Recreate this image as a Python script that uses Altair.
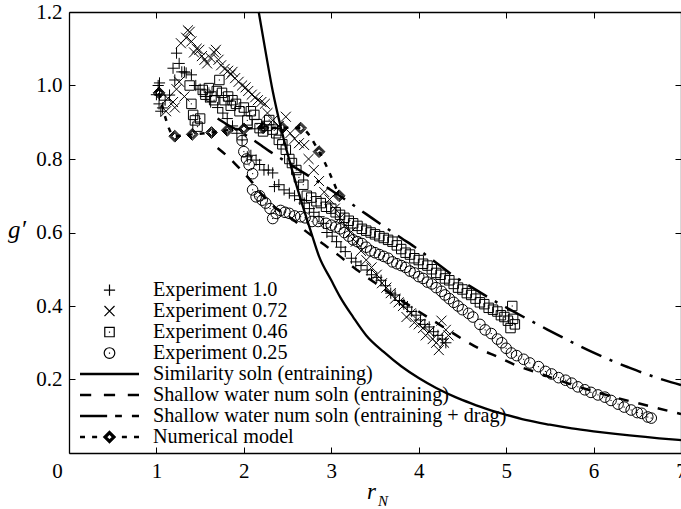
import altair as alt
import pandas as pd

FONT = "Liberation Serif"

# ---------------- data ----------------
X_TICKS = [0, 1, 2, 3, 4, 5, 6, 7]
Y_TICKS = [0.2, 0.4, 0.6, 0.8, 1.0, 1.2]
X_MIRROR = [1, 2, 3, 4, 5, 6]
Y_MIRROR = [0.2, 0.4, 0.6, 0.8, 1.0]

exp_10 = [(1.00, 0.975), (1.02, 1.00), (1.03, 0.95), (1.035, 1.007), (1.035, 0.974), (1.05, 0.93),
          (1.07, 0.939), (1.10, 0.96), (1.15, 0.974), (1.19, 1.047), (1.21, 1.015), (1.23, 1.088),
          (1.26, 1.06), (1.29, 1.037), (1.32, 1.037), (1.34, 1.034), (1.40, 1.029), (1.45, 1.00),
          (1.50, 0.99), (1.56, 0.97), (1.62, 0.955), (1.70, 0.94), (1.76, 0.925), (1.81, 0.91),
          (1.87, 0.89), (1.92, 0.87), (1.98, 0.852), (2.04, 0.806), (2.08, 0.81), (2.14, 0.797),
          (2.18, 0.785), (2.23, 0.77), (2.28, 0.77), (2.33, 0.762), (2.35, 0.725), (2.40, 0.73),
          (2.46, 0.716), (2.52, 0.707), (2.58, 0.70), (2.64, 0.69), (2.69, 0.68), (2.75, 0.665),
          (2.80, 0.655), (2.86, 0.643), (2.91, 0.625), (2.95, 0.60), (3.01, 0.59), (3.06, 0.575),
          (3.11, 0.56), (3.16, 0.548), (3.23, 0.53), (3.28, 0.52), (3.34, 0.51), (3.41, 0.498),
          (3.46, 0.485), (3.52, 0.478), (3.57, 0.47), (3.62, 0.455), (3.68, 0.435), (3.73, 0.43),
          (3.78, 0.415), (3.83, 0.405), (3.87, 0.397), (3.92, 0.385), (3.97, 0.375), (4.02, 0.362),
          (4.07, 0.35), (4.12, 0.343), (4.17, 0.33), (4.22, 0.32), (4.27, 0.31), (4.31, 0.30)]

exp_072 = [(1.11, 0.93), (1.13, 0.965), (1.19, 0.955), (1.21, 0.94), (1.23, 0.99), (1.26, 1.01),
           (1.28, 1.115), (1.32, 0.97), (1.34, 1.13), (1.36, 1.15), (1.38, 1.146), (1.40, 1.12),
           (1.43, 1.09), (1.46, 1.10), (1.49, 1.097), (1.52, 1.08), (1.55, 1.07), (1.58, 1.06),
           (1.62, 1.075), (1.66, 1.09), (1.68, 1.097), (1.71, 1.07), (1.74, 1.055), (1.78, 1.045),
           (1.82, 1.04), (1.85, 1.03), (1.87, 1.037), (1.90, 1.02), (1.94, 1.01), (1.98, 1.00),
           (2.02, 0.995), (2.05, 0.985), (2.09, 0.975), (2.13, 0.968), (2.16, 0.96), (2.20, 0.955),
           (2.24, 0.95), (2.27, 0.925), (2.33, 0.905), (2.40, 0.89), (2.48, 0.915), (2.53, 0.87),
           (2.58, 0.855), (2.63, 0.843), (2.69, 0.838), (2.74, 0.80), (2.80, 0.77), (2.86, 0.74),
           (2.92, 0.71), (2.98, 0.69), (3.04, 0.665), (3.10, 0.64), (3.16, 0.62), (3.22, 0.60),
           (3.28, 0.575), (3.34, 0.55), (3.40, 0.525), (3.46, 0.505), (3.52, 0.485), (3.58, 0.462),
           (3.63, 0.45), (3.68, 0.435), (3.73, 0.42), (3.77, 0.41), (3.82, 0.40), (3.86, 0.37),
           (3.91, 0.38), (3.95, 0.355), (4.00, 0.35), (4.05, 0.34), (4.08, 0.32), (4.12, 0.33),
           (4.16, 0.31), (4.20, 0.30), (4.23, 0.28), (4.26, 0.36), (4.29, 0.30), (4.31, 0.335),
           (4.34, 0.32)]

exp_046 = [(1.38, 1.00), (1.40, 0.95), (1.42, 0.92), (1.44, 0.905), (1.47, 0.888), (1.50, 0.91),
           (1.53, 0.988), (1.56, 0.975), (1.60, 0.993), (1.63, 0.97), (1.66, 0.96), (1.69, 0.985),
           (1.72, 1.015), (1.75, 0.98), (1.78, 0.96), (1.82, 0.97), (1.85, 0.945), (1.87, 0.96),
           (1.91, 0.95), (1.95, 0.93), (2.00, 0.94), (2.04, 0.905), (2.08, 0.93), (2.12, 0.92),
           (2.15, 0.895), (2.18, 0.884), (2.22, 0.875), (2.26, 0.89), (2.29, 0.906), (2.33, 0.88),
           (2.37, 0.87), (2.40, 0.852), (2.44, 0.84), (2.48, 0.825), (2.52, 0.80), (2.55, 0.789),
           (2.60, 0.77), (2.63, 0.75), (2.68, 0.73), (2.72, 0.70), (2.77, 0.695), (2.83, 0.685),
           (2.88, 0.68), (2.94, 0.67), (3.00, 0.665), (3.05, 0.655), (3.10, 0.648), (3.15, 0.64),
           (3.20, 0.632), (3.25, 0.625), (3.30, 0.618), (3.35, 0.61), (3.40, 0.605), (3.45, 0.60),
           (3.50, 0.595), (3.55, 0.59), (3.60, 0.585), (3.65, 0.58), (3.70, 0.575), (3.75, 0.565),
           (3.80, 0.555), (3.85, 0.545), (3.90, 0.54), (3.95, 0.53), (4.00, 0.525), (4.05, 0.515),
           (4.10, 0.51), (4.15, 0.50), (4.20, 0.49), (4.25, 0.485), (4.30, 0.475), (4.35, 0.47),
           (4.40, 0.46), (4.45, 0.45), (4.50, 0.445), (4.55, 0.435), (4.60, 0.43), (4.65, 0.42),
           (4.70, 0.41), (4.75, 0.405), (4.80, 0.395), (4.85, 0.39), (4.90, 0.385), (4.94, 0.375),
           (4.98, 0.37), (5.02, 0.36), (5.05, 0.34), (5.07, 0.40), (5.08, 0.365), (5.10, 0.35)]

exp_025 = [(1.98, 0.85), (2.00, 0.82), (2.03, 0.80), (2.06, 0.784), (2.10, 0.76), (2.10, 0.716),
           (2.14, 0.697), (2.18, 0.70), (2.21, 0.688), (2.25, 0.68), (2.30, 0.665), (2.33, 0.638),
           (2.37, 0.652), (2.42, 0.66), (2.47, 0.655), (2.52, 0.652), (2.58, 0.645), (2.65, 0.643),
           (2.70, 0.64), (2.78, 0.63), (2.85, 0.63), (2.94, 0.625), (3.00, 0.62), (3.05, 0.615),
           (3.10, 0.61), (3.15, 0.60), (3.20, 0.59), (3.25, 0.58), (3.30, 0.575), (3.35, 0.57),
           (3.40, 0.56), (3.45, 0.55), (3.50, 0.545), (3.55, 0.54), (3.60, 0.535), (3.65, 0.53),
           (3.70, 0.52), (3.75, 0.515), (3.80, 0.51), (3.85, 0.505), (3.90, 0.495), (3.95, 0.49),
           (4.00, 0.48), (4.05, 0.475), (4.10, 0.465), (4.15, 0.46), (4.20, 0.45), (4.26, 0.44),
           (4.30, 0.43), (4.35, 0.42), (4.40, 0.41), (4.45, 0.40), (4.50, 0.39), (4.57, 0.38),
           (4.62, 0.37), (4.70, 0.35), (4.76, 0.335), (4.83, 0.325), (4.90, 0.31), (4.95, 0.30),
           (5.00, 0.285), (5.06, 0.272), (5.12, 0.265), (5.20, 0.255), (5.27, 0.245), (5.37, 0.235),
           (5.45, 0.222), (5.52, 0.215), (5.60, 0.205), (5.68, 0.198), (5.75, 0.19), (5.82, 0.18),
           (5.90, 0.172), (5.97, 0.165), (6.05, 0.158), (6.13, 0.152), (6.20, 0.143), (6.28, 0.133),
           (6.35, 0.125), (6.43, 0.117), (6.50, 0.11), (6.55, 0.108), (6.62, 0.098), (6.66, 0.095)]

numerical_model = [(1.03, 0.98), (1.21, 0.862), (1.41, 0.867), (1.63, 0.872), (1.81, 0.878),
                   (2.00, 0.882), (2.22, 0.885), (2.44, 0.885), (2.65, 0.884), (2.86, 0.82),
                   (3.09, 0.70)]

similarity = [(2.17, 1.2), (2.25, 1.09), (2.33, 0.985), (2.43, 0.879), (2.52, 0.797), (2.65, 0.69),
              (2.77, 0.60), (2.86, 0.535), (3.0, 0.47), (3.1, 0.425), (3.25, 0.37), (3.4, 0.32),
              (3.6, 0.275), (3.8, 0.236), (4.0, 0.204), (4.2, 0.177), (4.42, 0.152), (4.6, 0.135),
              (4.8, 0.118), (5.0, 0.104), (5.22, 0.09), (5.5, 0.077), (5.75, 0.067), (6.0, 0.059),
              (6.25, 0.052), (6.5, 0.046), (6.75, 0.04), (7.0, 0.035)]

shallow_entr = [(1.70, 0.83), (1.80, 0.81), (1.90, 0.787), (2.00, 0.762), (2.10, 0.735), (2.20, 0.705),
                (2.30, 0.68), (2.40, 0.66), (2.50, 0.645), (2.60, 0.628), (2.70, 0.605), (2.80, 0.588),
                (2.90, 0.57), (3.00, 0.553), (3.10, 0.535), (3.20, 0.515), (3.30, 0.497), (3.50, 0.463),
                (3.70, 0.43), (3.90, 0.40), (4.10, 0.37), (4.30, 0.34), (4.50, 0.31), (4.70, 0.283),
                (4.90, 0.262), (5.10, 0.24), (5.40, 0.215), (5.70, 0.19), (6.00, 0.168), (6.30, 0.148),
                (6.60, 0.13), (6.90, 0.112), (7.00, 0.106)]

shallow_drag = [(1.70, 0.91), (1.80, 0.895), (1.90, 0.882), (2.00, 0.868), (2.10, 0.853), (2.20, 0.837),
                (2.30, 0.82), (2.40, 0.805), (2.60, 0.775), (2.80, 0.745), (3.00, 0.715), (3.20, 0.683),
                (3.40, 0.65), (3.60, 0.617), (3.80, 0.585), (4.00, 0.553), (4.20, 0.518), (4.40, 0.482),
                (4.60, 0.452), (4.80, 0.423), (5.00, 0.396), (5.20, 0.37), (5.40, 0.345), (5.60, 0.32),
                (5.80, 0.296), (6.00, 0.273), (6.20, 0.252), (6.40, 0.233), (6.60, 0.215), (6.80, 0.199),
                (7.00, 0.185)]

LEGEND_NAMES = ["Experiment 1.0", "Experiment 0.72", "Experiment 0.46", "Experiment 0.25",
                "Similarity soln (entraining)", "Shallow water num soln (entraining)",
                "Shallow water num soln (entraining + drag)", "Numerical model"]
MARKER_NAME = "nm"

# ---------------- symbol paths (style) ----------------
DIAMOND = ("M0,-0.2L0.2,0L0,0.2L-0.2,0Z"
           "M0,-0.165L0.165,0L0,0.165L-0.165,0Z"
           "M0,-0.13L0.13,0L0,0.13L-0.13,0Z"
           "M0,-0.10L0.10,0L0,0.10L-0.10,0Z")


def seg(a, b, h=0.022):
    return f"M{a},{-h}L{b},{-h}M{a},{h}L{b},{h}"


P_PLUS = "M-0.19,0L0.19,0M0,-0.19L0,0.19"
P_X = "M-0.17,-0.17L0.17,0.17M-0.17,0.17L0.17,-0.17"
P_SQ = "M-0.16,-0.16L0.16,-0.16L0.16,0.16L-0.16,0.16ZM-0.02,0L0.02,0"
P_CI = "M0.18,0A0.18,0.18,0,1,1,-0.18,0A0.18,0.18,0,1,1,0.18,0ZM-0.02,0L0.02,0"
P_SOLID = seg(-1, 1)
P_DASH = seg(-1, -0.62) + seg(-0.19, 0.19) + seg(0.62, 1)
P_DASHDOT = seg(-1, -0.08) + seg(0.19, 0.42) + seg(0.76, 1)
P_NM_LEG = seg(-1, -0.83) + seg(-0.59, -0.42) + seg(0.42, 0.59) + seg(0.83, 1) + DIAMOND
SHAPE_DOMAIN = LEGEND_NAMES + [MARKER_NAME]
SHAPE_RANGE = [P_PLUS, P_X, P_SQ, P_CI, P_SOLID, P_DASH, P_DASHDOT, P_NM_LEG, DIAMOND]


def frame(pairs, name):
    return pd.DataFrame({"x": [p[0] for p in pairs], "y": [p[1] for p in pairs], "series": name})


points = pd.concat([
    frame(exp_10, "Experiment 1.0"),
    frame(exp_072, "Experiment 0.72"),
    frame(exp_046, "Experiment 0.46"),
    frame(exp_025, "Experiment 0.25"),
    frame(numerical_model, MARKER_NAME),
], ignore_index=True)

xs = alt.Scale(domain=[0, 7], nice=False, zero=False)
ys = alt.Scale(domain=[0, 1.2], nice=False, zero=False)

INSIDE = {"expr": "-6"}

bottom_axis = alt.Axis(
    orient="bottom", values=X_TICKS, format="d", grid=False,
    tickSize=INSIDE, tickColor="black", tickWidth=1,
    domainColor="black", domainWidth=1.3,
    labelFont=FONT, labelFontSize=21, labelColor="black", labelPadding=13,
    labelOffset={"condition": {"test": "datum.value === 0", "value": -12}, "value": 0},
    labelFlush=False, labelOverlap=False,
    title="r", titleFont=FONT, titleFontSize=23, titleFontStyle="italic", titleFontWeight="normal",
    titleColor="black", titleX=302, titleY=38, titleAlign="center", titleBaseline="middle",
)
left_axis = alt.Axis(
    orient="left", values=Y_TICKS, format=".1f", grid=False,
    tickSize=INSIDE, tickColor="black", tickWidth=1,
    domainColor="black", domainWidth=1.3,
    labelFont=FONT, labelFontSize=21, labelColor="black", labelPadding=13,
    labelFlush=False, labelOverlap=False, title=None,
)
top_axis = alt.Axis(
    orient="top", values=X_MIRROR, labels=False, grid=False, title=None,
    tickSize=INSIDE, tickColor="black", tickWidth=1, domainColor="black", domainWidth=1.3,
)
right_axis = alt.Axis(
    orient="right", values=Y_MIRROR, labels=False, grid=False, title=None,
    tickSize=INSIDE, tickColor="black", tickWidth=1, domainColor="black", domainWidth=1.3,
)

legend = alt.Legend(
    title=None, orient="none", legendX=10, legendY=268.9, values=LEGEND_NAMES,
    symbolSize=3481, symbolStrokeWidth=1.2, symbolStrokeColor="black",
    symbolFillColor="transparent", labelFont=FONT, labelFontSize=20.2, labelColor="black",
    labelOffset=13, clipHeight=18.3, rowPadding=0, padding=0, labelLimit=600,
)


def line_layer(pairs, width, dash=None, x_axis=None, y_axis=None):
    props = dict(color="black", strokeWidth=width, interpolate="monotone")
    if dash is not None:
        props["strokeDash"] = dash
    return alt.Chart(frame(pairs, "line")).mark_line(**props).encode(
        x=alt.X("x:Q", scale=xs, axis=x_axis),
        y=alt.Y("y:Q", scale=ys, axis=y_axis),
    )


solid = line_layer(similarity, 2.3, x_axis=top_axis, y_axis=right_axis)
dashed = line_layer(shallow_entr, 2.5, dash=[10, 10])
dashdot = line_layer(shallow_drag, 2.5, dash=[22, 9, 3, 9])
dotted = line_layer(numerical_model, 2.5, dash=[5, 7])

pts = alt.Chart(points).mark_point(filled=False, size=3481, color="black", strokeWidth=1, opacity=1).encode(
    x=alt.X("x:Q", scale=xs, axis=bottom_axis),
    y=alt.Y("y:Q", scale=ys, axis=left_axis),
    shape=alt.Shape("series:N", scale=alt.Scale(domain=SHAPE_DOMAIN, range=SHAPE_RANGE), legend=legend),
)

title_df = pd.DataFrame({"t": ["g′"]})
ytitle = alt.Chart(title_df).mark_text(
    font=FONT, fontSize=25, fontStyle="italic", color="black", align="center", baseline="middle"
).encode(text="t:N", x=alt.value(-52), y=alt.value(218))

sub = alt.Chart(pd.DataFrame({"t": ["N"]})).mark_text(
    font=FONT, fontSize=15, fontStyle="italic", color="black", align="center", baseline="middle"
).encode(text="t:N", x=alt.value(314), y=alt.value(489))

chart = alt.layer(solid, dashed, dashdot, dotted, pts, ytitle, sub).properties(
    width=612, height=441,
    autosize=alt.AutoSizeParams(type="none"),
    padding={"left": 69, "top": 12, "right": 0, "bottom": 56},
).configure_view(stroke=None).configure(background="white")

chart.save("out.html", embed_options={"renderer": "svg", "actions": False})
